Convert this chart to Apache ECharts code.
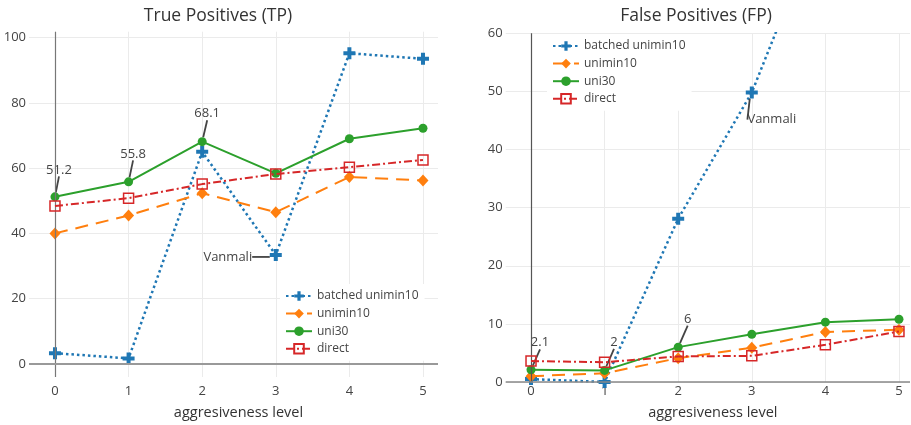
<!DOCTYPE html>
<html><head><meta charset="utf-8">
<script src="https://cdn.jsdelivr.net/npm/echarts@6/dist/echarts.min.js"></script>
<style>html,body{margin:0;padding:0;background:#fff}#c{width:911px;height:425px}</style>
</head><body><div id="c"></div>
<script>
// ---------- data ----------
const levels = [0, 1, 2, 3, 4, 5];
const seriesNames = ['batched unimin10', 'unimin10', 'uni30', 'direct'];
const tpBatched  = [3.3, 1.7, 65.0, 33.4, 95.2, 93.5];
const tpUnimin10 = [40.0, 45.5, 52.3, 46.5, 57.3, 56.2];
const tpUni30    = [51.2, 55.8, 68.1, 58.4, 69.0, 72.2];
const tpDirect   = [48.4, 50.8, 55.1, 58.2, 60.3, 62.5];
const fpBatched  = [0.5, 0.0, 28.1, 49.8, 81.5, 85.0];
const fpUnimin10 = [1.0, 1.5, 4.1, 5.9, 8.6, 9.0];
const fpUni30    = [2.1, 2.0, 6.0, 8.2, 10.3, 10.8];
const fpDirect   = [3.6, 3.4, 4.4, 4.5, 6.4, 8.7];
const xTickValues = [0, 1, 2, 3, 4, 5];
const tpTickValues = [0, 20, 40, 60, 80, 100];
const fpTickValues = [0, 10, 20, 30, 40, 50, 60];
const titles = ['True Positives (TP)', 'False Positives (FP)'];
const xAxisTitle = 'aggresiveness level';
// annotations: [series name, data index, text]
const tpNotes = [['uni30', 0, '51.2'], ['uni30', 1, '55.8'], ['uni30', 2, '68.1'], ['batched unimin10', 3, 'Vanmali']];
const fpNotes = [['uni30', 0, '2.1'], ['uni30', 1, '2'], ['uni30', 2, '6'], ['batched unimin10', 3, 'Vanmali']];

// ---------- layout / style ----------
const FONT = "'Open Sans', 'DejaVu Sans', sans-serif";
const TXT = '#444';
const noteOffsets = [
  { 'uni30': [[4, -27], [4.5, -28], [5, -28]], 'batched unimin10': { 3: [-48, 2] } },
  { 'uni30': [[9, -27], [9.4, -28], [9.5, -28]], 'batched unimin10': { 3: [20, 27] } }
];
const crossPath = 'path://M-1,-3H1V-1H3V1H1V3H-1V1H-3V-1H-1Z';
const styles = {
  'batched unimin10': { color: '#1f77b4', dash: [2.5, 3], width: 2.5, symbol: crossPath, size: 12, open: false },
  'unimin10': { color: '#ff7f0e', dash: [13, 8], width: 2, symbol: 'diamond', size: [11, 12], open: false },
  'uni30': { color: '#2ca02c', dash: 'solid', width: 2, symbol: 'circle', size: 9, open: false },
  'direct': { color: '#d62728', dash: [8, 3, 2, 3], width: 2, symbol: 'rect', size: 10, open: true }
};

const panels = [
  { data: [tpBatched, tpUnimin10, tpUni30, tpDirect], notes: tpNotes,
    grid: { left: 29, top: 31.7, width: 409, height: 346.3 },
    x: [-0.353, 5.204], y: [-4, 101.8], yTicks: tpTickValues, labelMarginX: 8, nameGap: 28,
    zeroV: { color: '#777', width: 1.2 }, zeroH: { color: '#999', width: 2 },
    title: 213, legend: { left: 280, top: 284 } },
  { data: [fpBatched, fpUnimin10, fpUni30, fpDirect], notes: fpNotes,
    grid: { left: 505.7, top: 33.3, width: 404.3, height: 349.4 },
    x: [-0.344, 5.15], y: [0, 60], yTicks: fpTickValues, labelMarginX: 3, nameGap: 23,
    zeroV: { color: '#555', width: 1.2 }, zeroH: { color: '#888', width: 1.5 },
    title: 691, legend: { left: 547, top: 34 } }
];

const option = {
  animation: false,
  backgroundColor: '#fff',
  textStyle: { fontFamily: FONT },
  title: panels.map((p, i) => ({
    text: titles[i], left: p.title, top: 2, textAlign: 'center',
    textStyle: { fontFamily: FONT, fontSize: 17.5, fontWeight: 'normal', color: '#333' }
  })),
  legend: panels.map(p => ({
    left: p.legend.left, top: p.legend.top, orient: 'vertical',
    data: seriesNames, selectedMode: false,
    backgroundColor: '#fff', padding: [6, 6, 6, 5],
    itemWidth: 26, itemHeight: 12, itemGap: 5.6,
    textStyle: { fontFamily: FONT, fontSize: 12, color: TXT }
  })),
  grid: panels.map(p => Object.assign({ containLabel: false }, p.grid)),
  xAxis: panels.map((p, i) => ({
    type: 'value', gridIndex: i, min: p.x[0], max: p.x[1],
    name: xAxisTitle, nameLocation: 'middle', nameGap: p.nameGap,
    nameTextStyle: { fontFamily: FONT, fontSize: 14.5, color: '#333', padding: [0, 0, 0, 10] },
    axisLine: { show: false },
    axisTick: { show: false, customValues: xTickValues },
    axisLabel: { customValues: xTickValues, margin: p.labelMarginX, fontFamily: FONT, fontSize: 13, color: TXT },
    splitLine: { show: true, lineStyle: { color: '#ebebeb', width: 1 } }
  })),
  yAxis: panels.map((p, i) => ({
    type: 'value', gridIndex: i, min: p.y[0], max: p.y[1],
    axisLine: { show: false },
    axisTick: { show: false, customValues: p.yTicks },
    axisLabel: { customValues: p.yTicks, margin: 3, fontFamily: FONT, fontSize: 13, color: TXT },
    splitLine: { show: true, lineStyle: { color: '#ebebeb', width: 1 } }
  })),
  series: []
};

panels.forEach((p, pi) => {
  // zero lines
  option.series.push({
    type: 'line', xAxisIndex: pi, yAxisIndex: pi, data: [], z: 1, silent: true,
    markLine: {
      silent: true, symbol: 'none', label: { show: false }, animation: false,
      data: [
        { xAxis: 0, lineStyle: { color: p.zeroV.color, width: p.zeroV.width, type: 'solid' } },
        { yAxis: 0, lineStyle: { color: p.zeroH.color, width: p.zeroH.width, type: 'solid' } }
      ]
    }
  });
  seriesNames.forEach((name, si) => {
    const st = styles[name];
    const vals = p.data[si];
    const noteMap = {};
    p.notes.forEach(n => { if (n[0] === name) noteMap[n[1]] = n[2]; });
    const data = vals.map((v, k) => {
      const item = { value: [levels[k], v] };
      if (noteMap[k] !== undefined) {
        item.label = { show: true, formatter: noteMap[k] };
        item.labelLine = { show: true };
      }
      return item;
    });
    const offs = noteOffsets[pi][name];
    option.series.push({
      type: 'line', name: name, xAxisIndex: pi, yAxisIndex: pi, data: data,
      z: 2 + si, clip: true,
      symbol: st.symbol, symbolSize: st.size, showAllSymbol: true,
      lineStyle: { color: st.color, width: st.width, type: st.dash },
      itemStyle: st.open ? { color: 'rgba(255,255,255,0)', borderColor: st.color, borderWidth: 1.5 }
                         : { color: st.color, borderWidth: 0 },
      label: { show: false, position: 'inside', fontFamily: FONT, fontSize: 13, color: TXT },
      labelLine: { show: false, lineStyle: { color: '#444', width: 1.8 } },
      labelLayout: offs ? function (params) {
        const o = offs[params.dataIndex];
        return o ? { dx: o[0], dy: o[1] } : {};
      } : undefined,
      emphasis: { disabled: true }
    });
  });
});

const chart = echarts.init(document.getElementById('c'), null, { renderer: 'canvas' });
chart.setOption(option);
</script>
</body></html>
